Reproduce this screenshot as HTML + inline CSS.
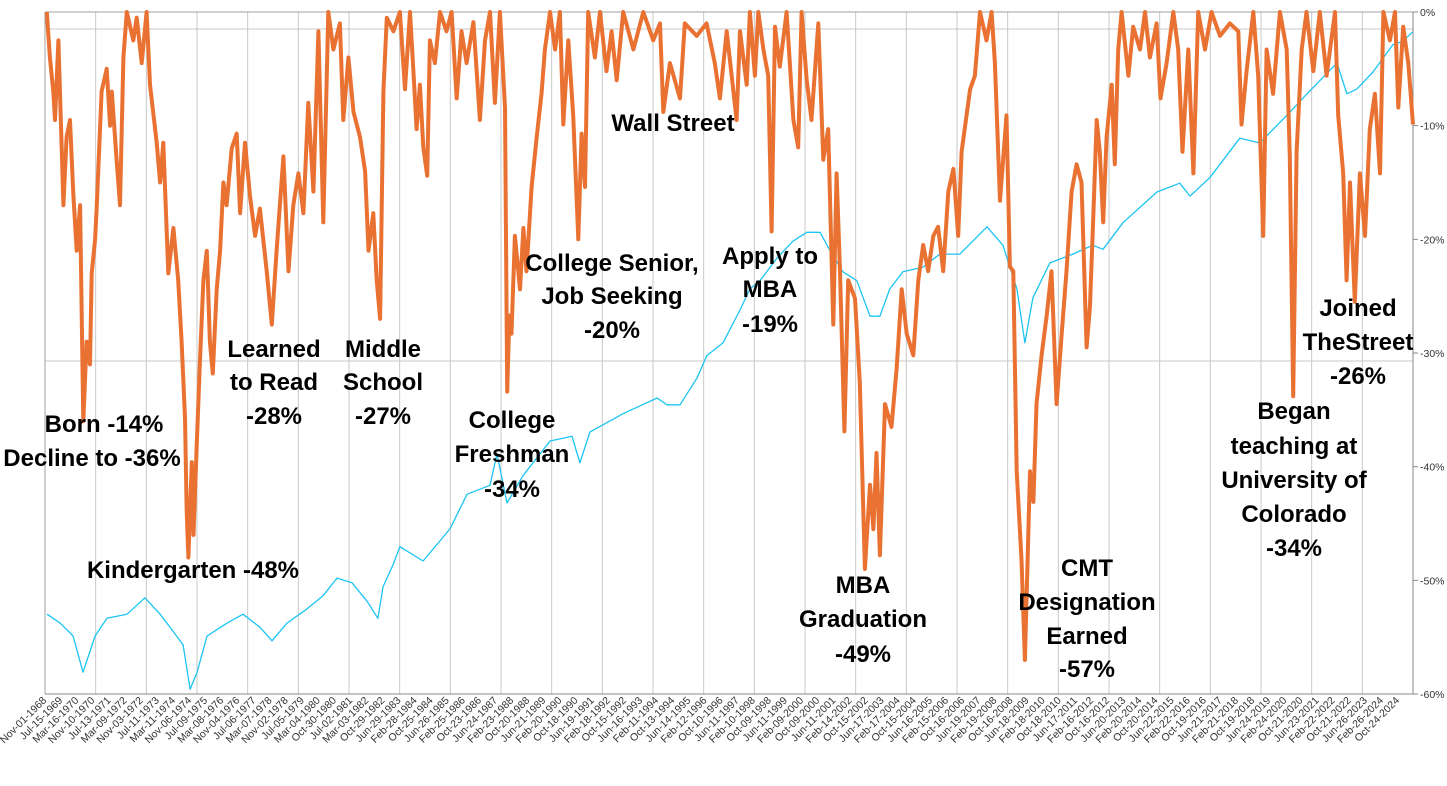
<!DOCTYPE html>
<html><head><meta charset="utf-8"><style>
html,body{margin:0;padding:0;background:#fff;}
svg{display:block;font-family:"Liberation Sans",Arial,sans-serif;}
.ann{font-weight:bold;font-size:24px;fill:#000;text-anchor:middle;}
.tick{font-size:10.5px;fill:#333;}
.rt{font-size:10.5px;fill:#333;}
</style></head><body>
<svg id="chart" width="1447" height="786" viewBox="0 0 1447 786" xmlns="http://www.w3.org/2000/svg">
<g id="grid"></g>
<g id="xaxis"></g>
<g id="yaxis"></g>
<g id="series"></g>
<g id="anns"></g>
</svg>
<script>
const tickLabels=["Nov-01-1968","Jul-15-1969","Mar-16-1970","Nov-10-1970","Jul-13-1971","Mar-09-1972","Nov-03-1972","Jul-11-1973","Mar-11-1974","Nov-06-1974","Jul-09-1975","Mar-08-1976","Nov-04-1976","Jul-06-1977","Mar-07-1978","Nov-02-1978","Jul-05-1979","Mar-04-1980","Oct-30-1980","Jul-02-1981","Mar-03-1982","Oct-29-1982","Jun-29-1983","Feb-28-1984","Oct-25-1984","Jun-26-1985","Feb-25-1986","Oct-23-1986","Jun-24-1987","Feb-23-1988","Oct-20-1988","Jun-21-1989","Feb-20-1990","Oct-18-1990","Jun-19-1991","Feb-18-1992","Oct-15-1992","Jun-16-1993","Feb-11-1994","Oct-13-1994","Jun-14-1995","Feb-12-1996","Oct-10-1996","Jun-11-1997","Feb-10-1998","Oct-09-1998","Jun-11-1999","Feb-09-2000","Oct-09-2000","Jun-11-2001","Feb-14-2002","Oct-15-2002","Jun-17-2003","Feb-17-2004","Oct-15-2004","Jun-16-2005","Feb-15-2006","Oct-16-2006","Jun-19-2007","Feb-19-2008","Oct-16-2008","Jun-18-2009","Feb-18-2010","Oct-18-2010","Jun-17-2011","Feb-16-2012","Oct-16-2012","Jun-20-2013","Feb-20-2014","Oct-20-2014","Jun-22-2015","Feb-22-2016","Oct-19-2016","Jun-21-2017","Feb-21-2018","Oct-19-2018","Jun-24-2019","Feb-24-2020","Oct-21-2020","Jun-23-2021","Feb-22-2022","Oct-21-2022","Jun-26-2023","Feb-26-2024","Oct-24-2024"];
const yTicks=[0,-10,-20,-30,-40,-50,-60];
const ddYears=[1968.82,1968.95,1969.09,1969.16,1969.30,1969.44,1969.51,1969.64,1969.78,1969.92,1970.06,1970.20,1970.26,1970.33,1970.47,1970.61,1970.68,1970.82,1970.89,1971.09,1971.30,1971.44,1971.51,1971.71,1971.85,1971.99,1972.13,1972.40,1972.54,1972.75,1972.95,1973.09,1973.37,1973.51,1973.64,1973.85,1974.06,1974.26,1974.40,1974.54,1974.61,1974.68,1974.82,1974.89,1975.02,1975.16,1975.30,1975.44,1975.57,1975.69,1975.85,1975.99,1976.13,1976.26,1976.47,1976.68,1976.82,1977.02,1977.23,1977.44,1977.64,1977.92,1978.13,1978.33,1978.61,1978.82,1979.02,1979.23,1979.44,1979.64,1979.85,1980.06,1980.26,1980.47,1980.68,1980.95,1981.09,1981.30,1981.51,1981.78,1981.99,1982.13,1982.33,1982.47,1982.61,1982.75,1982.89,
1983.16,1983.43,1983.64,1983.85,1983.99,1984.12,1984.26,1984.40,1984.56,1984.67,1984.88,1985.09,1985.36,1985.57,1985.78,1985.98,1986.19,1986.47,1986.74,1986.95,1987.16,1987.36,1987.57,1987.78,1987.87,1987.96,1988.05,1988.19,1988.40,1988.54,1988.67,1988.88,1989.09,1989.29,1989.43,1989.64,1989.85,1990.05,1990.19,1990.40,1990.60,1990.81,1990.95,1991.09,1991.22,1991.50,1991.71,1991.98,1992.19,1992.40,1992.67,1993.09,1993.50,1993.91,1994.19,1994.33,1994.60,1995.02,1995.22,1995.71,1996.12,1996.46,1996.67,1996.95,1997.36,
1997.50,1997.78,1997.91,1998.12,1998.26,1998.47,1998.67,1998.81,1998.95,1999.15,1999.43,1999.71,1999.91,2000.05,2000.26,2000.46,2000.74,2000.95,2001.15,2001.36,2001.50,2001.64,2001.82,2001.98,2002.26,2002.46,2002.67,2002.88,2003.02,2003.15,2003.29,2003.50,2003.77,2003.98,2004.19,2004.40,2004.67,2004.88,2005.08,2005.29,2005.50,2005.70,2005.91,2006.12,2006.33,2006.53,2006.67,2007.02,2007.22,2007.43,2007.70,2007.91,2008.05,2008.26,2008.53,2008.67,2008.81,2008.95,2009.15,2009.29,2009.50,2009.64,2009.77,2009.98,2010.19,2010.39,2010.60,2010.81,2011.01,2011.22,2011.43,2011.63,2011.84,
2011.98,2012.12,2012.26,2012.39,2012.53,2012.67,2012.88,2013.01,2013.15,2013.29,2013.57,2013.77,2014.05,2014.26,2014.46,2014.74,2014.90,2015.15,2015.43,2015.63,2015.81,2016.05,2016.26,2016.46,2016.74,2017.01,2017.36,2017.77,2018.12,2018.25,2018.46,2018.74,2018.94,2019.15,2019.29,2019.56,2019.84,2020.12,2020.25,2020.39,2020.53,2020.74,2020.94,2021.22,2021.49,2021.77,2022.12,2022.25,2022.46,2022.60,2022.74,2022.94,2023.15,2023.36,2023.56,2023.77,2023.98,2024.12,2024.39,2024.60,2024.74,2024.94,2025.15,2025.36];
const ddValues=[0,-4,-7,-9.5,-2.5,-12,-17,-11,-9.5,-16,-21,-17,-26,-36,-29,-31,-23,-20,-17,-7,-5,-10,-7,-13,-17,-4,0,-2.5,-0.5,-4.5,0,-6.4,-11.5,-15,-11.5,-23,-19,-23.6,-29,-35.7,-44,-48,-39.6,-46,-38.4,-30.6,-23.6,-21,-29,-31.8,-24.4,-21,-15,-17,-12,-10.7,-17.7,-11.5,-16.2,-19.7,-17.3,-22.8,-27.5,-21,-12.7,-22.8,-17,-14.2,-17.7,-8,-15.8,-1.7,-18.5,0,-3.3,-1,-9.5,-4,-8.8,-11,-14,-21,-17.7,-23.6,-27,-7,-0.5,
-1.7,0,-6.8,0,-5.2,-10.3,-6.4,-11.9,-14.4,-2.5,-4.5,0,-1.7,0,-7.6,-1.7,-4.5,-0.9,-9.5,-2.5,0,-8,0,-8.4,-33.4,-26.7,-28.3,-19.7,-24.4,-19,-22.8,-15.4,-11,-7.2,-3.3,0,-3.3,0,-9.9,-2.5,-9.1,-20,-10.7,-15.4,0,-4,0,-5.2,-1.7,-6,0,-3.3,0,-2.5,-1,-8.8,-4.5,-7.6,-1,-2.1,-1,-4.5,-7.6,-1.7,-9.5,
-1.7,-6.4,0,-5.6,0,-3.3,-5.6,-19.3,-1.3,-4.8,0,-9.5,-11.9,0,-6,-9.5,-1,-13,-10.3,-27.5,-14.2,-22.8,-36.9,-23.6,-25.2,-32.6,-49,-41.6,-45.5,-38.8,-47.8,-34.5,-36.5,-31.4,-24.4,-28.3,-30.2,-23.6,-20.5,-22.8,-19.7,-18.9,-22.8,-15.8,-13.8,-19.7,-12.3,-6.8,-5.6,0,-2.5,0,-4.5,-16.6,-9.1,-22.4,-22.8,-40.4,-48.2,-57,-40.4,-43.1,-34.5,-30.2,-26.7,-22.8,-34.5,-28.3,-22.8,-15.8,-13.4,-15,-29.5,
-26,-18,-9.5,-12.3,-18.5,-11,-6.4,-13.4,-3.3,0,-5.6,-1.3,-3.3,0,-4,-1,-7.6,-4.5,0,-3.3,-12.3,-3.3,-14.2,0,-3.3,0,-2.1,-1,-1.7,-9.9,-5.2,0,-5.6,-19.7,-3.3,-7.2,0,-3.3,-12.7,-33.8,-12.3,-3.3,0,-5.2,0,-5.6,0,-9.1,-14.2,-23.6,-15,-25.5,-14.2,-19.7,-10.3,-7.2,-14.2,0,-2.5,0,-8.4,-1.3,-4.5,-9.9];
const idxYears=[1968.83,1969.37,1969.91,1970.32,1970.82,1971.31,1972.14,1972.88,1973.51,1973.92,1974.46,1974.75,1975.04,1975.45,1976.28,1976.94,1977.64,1978.14,1978.76,1979.59,1980.25,1980.83,1981.45,1982.07,1982.52,1982.73,1983.14,1983.43,1984.39,1985.50,1986.21,1987.16,1987.45,1987.86,1988.52,1989.64,1990.55,1990.88,1991.29,1992.66,1994.07,1994.48,1995.02,1995.72,1996.13,1996.80,1997.50,1997.91,1998.33,1999.03,1999.69,2000.27,2000.81,2001.31,2001.76,2002.34,2002.88,2003.29,2003.70,2004.24,2005.07,2005.77,2006.60,2007.72,2008.38,2008.96,2009.29,2009.62,2010.32,2011.27,2012.10,2012.52,2013.35,2014.75,2015.70,2016.12,2016.94,2018.18,2019.01,2020.25,2020.96,2022.20,2022.61,2023.02,2023.69,2024.51,2024.92,2025.34];
const idxValues=[11.7,10.4,8.5,3.2,8.5,11.1,11.7,14.1,11.7,9.8,7.2,0.7,3.2,8.5,10.4,11.7,9.8,7.8,10.4,12.5,14.4,17.0,16.3,13.6,11.1,15.7,18.9,21.6,19.5,24.2,29.3,30.6,35.2,28.0,32.0,37.1,37.8,33.9,38.4,41.1,43.4,42.4,42.4,46.3,49.6,51.5,56.3,59.4,60.6,63.9,66.4,67.7,67.7,64.5,61.9,60.6,55.4,55.4,59.4,61.9,62.6,64.5,64.5,68.5,65.8,59.4,51.5,58.1,63.2,64.5,65.8,65.2,69.1,73.6,74.9,73.0,75.7,81.5,80.8,85.3,88.0,92.5,88.0,88.7,91.2,95.2,95.7,97.1];

const NS="http://www.w3.org/2000/svg";
const L=45,R=1413,T=12,B=694;
function xs(yr){return Math.max(L,Math.min(R,47+(yr-1968.83)*24.17));}
function ys(p){return T+(-p)/60*(B-T);}
function yi(v){return B-v/100*(B-T);}
function mk(tag,attrs,parent){const e=document.createElementNS(NS,tag);for(const k in attrs)e.setAttribute(k,attrs[k]);parent.appendChild(e);return e;}
const grid=document.getElementById('grid'),xa=document.getElementById('xaxis'),ya=document.getElementById('yaxis'),se=document.getElementById('series'),an=document.getElementById('anns');
for(let k=1;k<27;k++){const x=L+k*(R-L)/27;const l=mk('line',{x1:x,x2:x,y1:T,y2:B,stroke:'#c8c8c8','stroke-width':1},grid);

}
[29,361].forEach(y=>{const l=mk('line',{x1:L,x2:R,y1:y,y2:y,stroke:'#c8c8c8','stroke-width':1},grid);

});
mk('line',{x1:L,x2:R,y1:T,y2:T,stroke:'#a0a0a0'},grid);
mk('line',{x1:L,x2:L,y1:T,y2:B,stroke:'#a0a0a0'},grid);
mk('line',{x1:L,x2:R,y1:B,y2:B,stroke:'#888'},grid);
mk('line',{x1:R,x2:R,y1:T,y2:B,stroke:'#888'},grid);
tickLabels.forEach((t,i)=>{const x=47+i*(1400-47)/(tickLabels.length-1);
const tx=mk('text',{x:x,y:701,'text-anchor':'end',class:'tick',transform:`rotate(-45 ${x} 701)`},xa);tx.textContent=t;

});
yTicks.forEach(v=>{const y=ys(v);mk('line',{x1:R,x2:R+5,y1:y,y2:y,stroke:'#888'},ya);
const tx=mk('text',{x:R+7,y:y+4,class:'rt'},ya);tx.textContent=v+'%';

});
let d='';idxYears.forEach((yr,i)=>{d+=(i?'L':'M')+xs(yr).toFixed(1)+' '+yi(idxValues[i]).toFixed(1);});
const bl=mk('path',{d:d,fill:'none',stroke:'#1cc4f2','stroke-width':1.3,'stroke-linejoin':'round'},se);


d='';ddYears.forEach((yr,i)=>{d+=(i?'L':'M')+xs(yr).toFixed(1)+' '+ys(ddValues[i]).toFixed(1);});
const ol=mk('path',{d:d,fill:'none',stroke:'#e97233','stroke-width':4,'stroke-linejoin':'round'},se);


const anns=[
 [104,[["Born -14%",432]]],[92,[["Decline to -36%",466]]],
 [193,[["Kindergarten -48%",578]]],
 [274,[["Learned",357],["to Read",390],["-28%",424]]],
 [383,[["Middle",357],["School",390],["-27%",424]]],
 [512,[["College",428],["Freshman",462],["-34%",497]]],
 [612,[["College Senior,",271],["Job Seeking",304],["-20%",338]]],
 [673,[["Wall Street",131]]],
 [770,[["Apply to",264],["MBA",297],["-19%",332]]],
 [863,[["MBA",593],["Graduation",627],["-49%",662]]],
 [1087,[["CMT",576],["Designation",610],["Earned",644],["-57%",677]]],
 [1294,[["Began",419],["teaching at",454],["University of",488],["Colorado",522],["-34%",556]]],
 [1358,[["Joined",316],["TheStreet",350],["-26%",384]]]];
anns.forEach(a=>{a[1].forEach(([s,y])=>{const t=mk('text',{x:a[0],y:y,class:'ann'},an);t.textContent=s;

});});
</script>
</body></html>
